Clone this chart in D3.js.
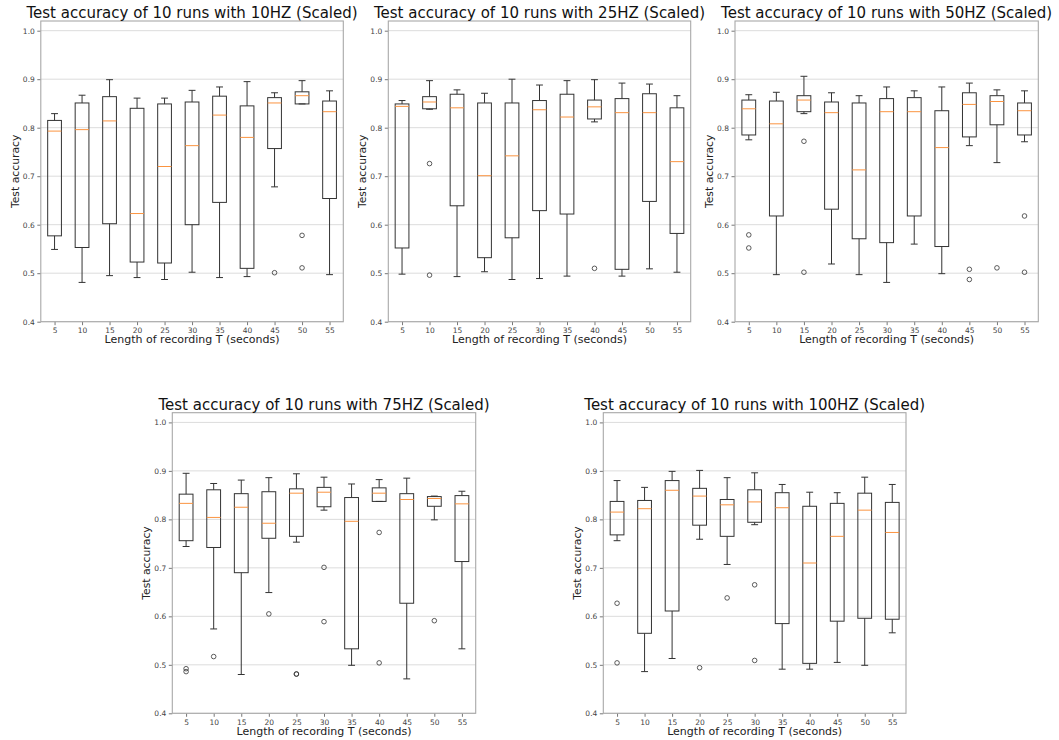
<!DOCTYPE html>
<html>
<head>
<meta charset="utf-8">
<script src="https://cdn.jsdelivr.net/npm/d3@7"></script>
<style>
  html, body { margin: 0; padding: 0; background: #fff; }
  svg { display: block; font-family: "DejaVu Sans", sans-serif; }
</style>
</head>
<body>
<svg id="chart" width="1059" height="740"></svg>
<script>
// ---------- DATA ----------
const categories = [5, 10, 15, 20, 25, 30, 35, 40, 45, 50, 55];
const yTicks = [0.4, 0.5, 0.6, 0.7, 0.8, 0.9, 1.0];
const frequencies = ["10HZ", "25HZ", "50HZ", "75HZ", "100HZ"];

// 10HZ
const low10  = [0.549, 0.481, 0.495, 0.491, 0.487, 0.502, 0.491, 0.493, 0.678, 0.849, 0.497];
const q1_10  = [0.577, 0.553, 0.602, 0.523, 0.521, 0.600, 0.646, 0.510, 0.757, 0.849, 0.654];
const med10  = [0.793, 0.796, 0.814, 0.623, 0.720, 0.763, 0.826, 0.780, 0.851, 0.866, 0.833];
const q3_10  = [0.815, 0.851, 0.864, 0.840, 0.849, 0.853, 0.865, 0.845, 0.862, 0.874, 0.855];
const high10 = [0.829, 0.867, 0.899, 0.861, 0.861, 0.877, 0.884, 0.895, 0.872, 0.897, 0.876];
const out10  = [[], [], [], [], [], [], [], [], [0.501], [0.578, 0.511], []];

// 25HZ
const low25  = [0.498, 0.838, 0.493, 0.503, 0.487, 0.489, 0.494, 0.812, 0.494, 0.509, 0.502];
const q1_25  = [0.552, 0.839, 0.639, 0.532, 0.573, 0.629, 0.622, 0.818, 0.508, 0.648, 0.582];
const med25  = [0.844, 0.853, 0.841, 0.701, 0.742, 0.837, 0.822, 0.843, 0.831, 0.831, 0.730];
const q3_25  = [0.849, 0.864, 0.869, 0.851, 0.851, 0.856, 0.869, 0.857, 0.860, 0.870, 0.841];
const high25 = [0.856, 0.897, 0.878, 0.871, 0.900, 0.888, 0.897, 0.899, 0.892, 0.890, 0.866];
const out25  = [[], [0.726, 0.496], [], [], [], [], [], [0.510], [], [], []];

// 50HZ
const low50  = [0.775, 0.497, 0.829, 0.519, 0.497, 0.481, 0.560, 0.499, 0.763, 0.728, 0.771];
const q1_50  = [0.785, 0.618, 0.833, 0.632, 0.571, 0.563, 0.618, 0.555, 0.781, 0.806, 0.785];
const med50  = [0.839, 0.808, 0.857, 0.831, 0.713, 0.833, 0.833, 0.759, 0.848, 0.854, 0.835];
const q3_50  = [0.857, 0.855, 0.866, 0.853, 0.851, 0.860, 0.862, 0.835, 0.872, 0.866, 0.851];
const high50 = [0.868, 0.873, 0.906, 0.872, 0.866, 0.884, 0.876, 0.884, 0.892, 0.878, 0.876];
const out50  = [[0.579, 0.552], [], [0.772, 0.502], [], [], [], [], [], [0.508, 0.487], [0.511], [0.618, 0.502]];

// 75HZ
const low75  = [0.744, 0.574, 0.480, 0.649, 0.753, 0.819, 0.499, 0.837, 0.471, 0.799, 0.533];
const q1_75  = [0.756, 0.742, 0.690, 0.761, 0.765, 0.826, 0.533, 0.837, 0.627, 0.827, 0.713];
const med75  = [0.833, 0.804, 0.825, 0.792, 0.854, 0.856, 0.796, 0.854, 0.841, 0.843, 0.832];
const q3_75  = [0.852, 0.861, 0.853, 0.857, 0.863, 0.866, 0.845, 0.865, 0.853, 0.847, 0.849];
const high75 = [0.895, 0.874, 0.881, 0.886, 0.894, 0.887, 0.873, 0.882, 0.885, 0.848, 0.858];
const out75  = [[0.492, 0.486], [0.517], [], [0.605], [0.481, 0.481], [0.701, 0.589], [], [0.773, 0.504], [], [0.591], []];

// 100HZ
const low100  = [0.756, 0.486, 0.513, 0.759, 0.707, 0.789, 0.491, 0.491, 0.505, 0.499, 0.566];
const q1_100  = [0.768, 0.565, 0.611, 0.788, 0.765, 0.794, 0.585, 0.503, 0.590, 0.596, 0.594];
const med100  = [0.815, 0.822, 0.860, 0.848, 0.830, 0.836, 0.824, 0.710, 0.765, 0.819, 0.773];
const q3_100  = [0.837, 0.839, 0.880, 0.864, 0.841, 0.861, 0.855, 0.827, 0.833, 0.854, 0.835];
const high100 = [0.880, 0.866, 0.899, 0.901, 0.886, 0.896, 0.872, 0.856, 0.855, 0.887, 0.872];
const out100  = [[0.627, 0.504], [], [], [0.494], [0.638], [0.665, 0.509], [], [], [], [], []];

// ---------- LAYOUT ----------
const panelFrames = [
  { left: 40.8,  right: 343.3,  top: 21,    bottom: 321.7 },
  { left: 388.3, right: 690.7,  top: 21,    bottom: 321.7 },
  { left: 735,   right: 1038.3, top: 21,    bottom: 321.7 },
  { left: 172.3, right: 475.7,  top: 412.7, bottom: 713.3 },
  { left: 603.3, right: 906,    top: 412.7, bottom: 713.3 }
];

const seriesSets = [
  [low10, q1_10, med10, q3_10, high10, out10],
  [low25, q1_25, med25, q3_25, high25, out25],
  [low50, q1_50, med50, q3_50, high50, out50],
  [low75, q1_75, med75, q3_75, high75, out75],
  [low100, q1_100, med100, q3_100, high100, out100]
];

const svg = d3.select("#chart");
const boxColor = "#333";
const medianColor = "#fb9440";

seriesSets.forEach((set, pi) => {
  const f = panelFrames[pi];
  const [low, q1, med, q3, high, outs] = set;
  const boxes = categories.map((c, i) => ({
    cat: c, pos: i + 1, low: low[i], q1: q1[i], med: med[i], q3: q3[i], high: high[i], outs: outs[i]
  }));

  const x = d3.scaleLinear().domain([0.5, categories.length + 0.5]).range([f.left, f.right]);
  const y = d3.scaleLinear().domain([0.4, 1.02]).range([f.bottom, f.top]);
  const bw = x(1.25) - x(1);   // half box width (box width 0.5)
  const cw = bw / 2;           // half cap width

  const g = svg.append("g");

  // grid
  g.append("g").selectAll("line").data(yTicks).join("line")
    .attr("x1", f.left).attr("x2", f.right)
    .attr("y1", d => y(d)).attr("y2", d => y(d))
    .attr("stroke", "#dcdcdc").attr("stroke-width", 1);

  // axes
  const xAxis = d3.axisBottom(x).tickValues(categories.map((c, i) => i + 1))
    .tickFormat((d, i) => categories[i]).tickSize(3.5).tickPadding(2.5);
  const yAxis = d3.axisLeft(y).tickValues(yTicks).tickFormat(d3.format(".1f"))
    .tickSize(3.5).tickPadding(2.5);

  const gx = g.append("g").attr("transform", `translate(0,${f.bottom})`).call(xAxis);
  const gy = g.append("g").attr("transform", `translate(${f.left},0)`).call(yAxis);
  [gx, gy].forEach(a => {
    a.select(".domain").remove();
    a.selectAll(".tick line").attr("stroke", "#777");
    a.selectAll(".tick text").attr("fill", "#444").style("font-size", "7.5px")
      .style("font-family", "DejaVu Sans, sans-serif");
  });

  // frame
  g.append("rect")
    .attr("x", f.left).attr("y", f.top)
    .attr("width", f.right - f.left).attr("height", f.bottom - f.top)
    .attr("fill", "none").attr("stroke", "#a8a8a8").attr("stroke-width", 1.1);

  // boxes
  const bg = g.append("g").selectAll("g").data(boxes).join("g");

  // whiskers
  bg.append("line")
    .attr("x1", d => x(d.pos)).attr("x2", d => x(d.pos))
    .attr("y1", d => y(d.q3)).attr("y2", d => y(d.high))
    .attr("stroke", boxColor).attr("stroke-width", 1);
  bg.append("line")
    .attr("x1", d => x(d.pos)).attr("x2", d => x(d.pos))
    .attr("y1", d => y(d.q1)).attr("y2", d => y(d.low))
    .attr("stroke", boxColor).attr("stroke-width", 1);
  // caps
  bg.append("line")
    .attr("x1", d => x(d.pos) - cw).attr("x2", d => x(d.pos) + cw)
    .attr("y1", d => y(d.high)).attr("y2", d => y(d.high))
    .attr("stroke", boxColor).attr("stroke-width", 1);
  bg.append("line")
    .attr("x1", d => x(d.pos) - cw).attr("x2", d => x(d.pos) + cw)
    .attr("y1", d => y(d.low)).attr("y2", d => y(d.low))
    .attr("stroke", boxColor).attr("stroke-width", 1);
  // box
  bg.append("rect")
    .attr("x", d => x(d.pos) - bw).attr("width", 2 * bw)
    .attr("y", d => y(d.q3)).attr("height", d => y(d.q1) - y(d.q3))
    .attr("fill", "none").attr("stroke", boxColor).attr("stroke-width", 1);
  // median
  bg.append("line")
    .attr("x1", d => x(d.pos) - bw).attr("x2", d => x(d.pos) + bw)
    .attr("y1", d => y(d.med)).attr("y2", d => y(d.med))
    .attr("stroke", medianColor).attr("stroke-width", 1);
  // fliers
  bg.selectAll("circle").data(d => d.outs.map(v => ({ pos: d.pos, v }))).join("circle")
    .attr("cx", d => x(d.pos)).attr("cy", d => y(d.v)).attr("r", 2.3)
    .attr("fill", "none").attr("stroke", boxColor).attr("stroke-width", 0.8);

  // title
  g.append("text")
    .attr("x", (f.left + f.right) / 2).attr("y", f.top - 3)
    .attr("text-anchor", "middle").style("font-size", "15px").attr("fill", "#111")
    .text(`Test accuracy of 10 runs with ${frequencies[pi]} (Scaled)`);

  // x label
  g.append("text")
    .attr("x", (f.left + f.right) / 2).attr("y", f.bottom + 21.5)
    .attr("text-anchor", "middle").style("font-size", "11px").attr("fill", "#222")
    .text("Length of recording T (seconds)");

  // y label
  g.append("text")
    .attr("transform", `translate(${f.left - 22},${(f.top + f.bottom) / 2}) rotate(-90)`)
    .attr("text-anchor", "middle").style("font-size", "10.8px").attr("fill", "#222")
    .text("Test accuracy");
});
</script>
</body>
</html>
